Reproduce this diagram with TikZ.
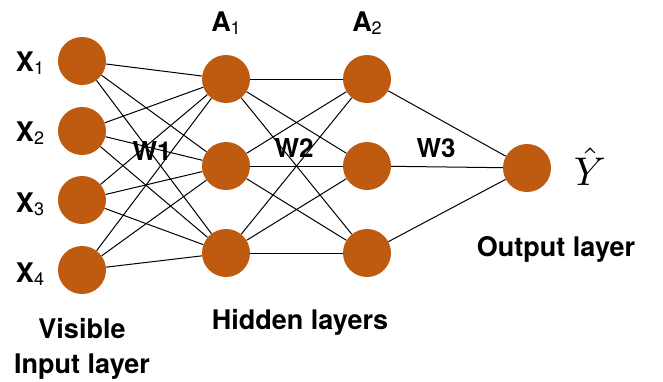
\documentclass[tikz,border=0pt]{standalone}
\usepackage{fontspec}
\setmainfont{TeX Gyre Heros}
\definecolor{unitorange}{RGB}{191,90,17}
\tikzset{
	unit/.style={circle,fill=unitorange,minimum size=48pt,inner sep=0pt},
	lbl/.style={font=\fontsize{27}{30}\selectfont\bfseries,inner sep=0pt},
	wlbl/.style={font=\fontsize{26}{30}\selectfont\bfseries,inner sep=0pt},
	conn/.style={line width=1pt}
}
\newcommand{\subidx}[1]{\raisebox{-3pt}{\fontsize{18}{20}\selectfont\mdseries #1}}
\begin{document}
\begin{tikzpicture}[x=1pt,y=-1pt]
	\useasboundingbox (0,0) rectangle (663,381);
	% input layer
	\node[unit](in1) at (82,61){};
	\node[unit](in2) at (82,131){};
	\node[unit](in3) at (82,200){};
	\node[unit](in4) at (82,270){};
	% hidden layers
	\node[unit](ha1) at (226,79){};
	\node[unit](ha2) at (226,166){};
	\node[unit](ha3) at (226,253){};
	\node[unit](hb1) at (367,79){};
	\node[unit](hb2) at (367,166){};
	\node[unit](hb3) at (367,253){};
	% output
	\node[unit](out) at (527,168){};
	% connections
	\foreach \i in {1,...,4}
		\foreach \j in {1,2,3}
			\draw[conn](in\i)--(ha\j);
	\foreach \i in {1,2,3}
		\foreach \j in {1,2,3}
			\draw[conn](ha\i)--(hb\j);
	\foreach \i in {1,2,3}
		\draw[conn](hb\i)--(out);
	% labels
	\node[lbl,anchor=base](x1) at (30,71){X\subidx{1}};
	\node[lbl,anchor=base](x2) at (30,141){X\subidx{2}};
	\node[lbl,anchor=base](x3) at (30,212){X\subidx{3}};
	\node[lbl,anchor=base](x4) at (30,282){X\subidx{4}};
	\node[lbl,anchor=base](a1) at (226,31){A\subidx{1}};
	\node[lbl,anchor=base](a2) at (367,31){A\subidx{2}};
	\node[wlbl,anchor=base](w1) at (152,160){W1};
	\node[wlbl,anchor=base](w2) at (294,157){W2};
	\node[wlbl,anchor=base](w3) at (436,157){W3};
	\node[inner sep=0pt,scale=4](yhat) at (590,167){$\hat{Y}$};
	\node[lbl,anchor=base](outlbl) at (556,256){Output layer};
	\node[lbl,anchor=base](hidlbl) at (300,329){Hidden layers};
	\node[lbl,anchor=base](vislbl) at (82,338){Visible};
	\node[lbl,anchor=base](inlbl) at (82,373){Input layer};
\end{tikzpicture}
\end{document}
